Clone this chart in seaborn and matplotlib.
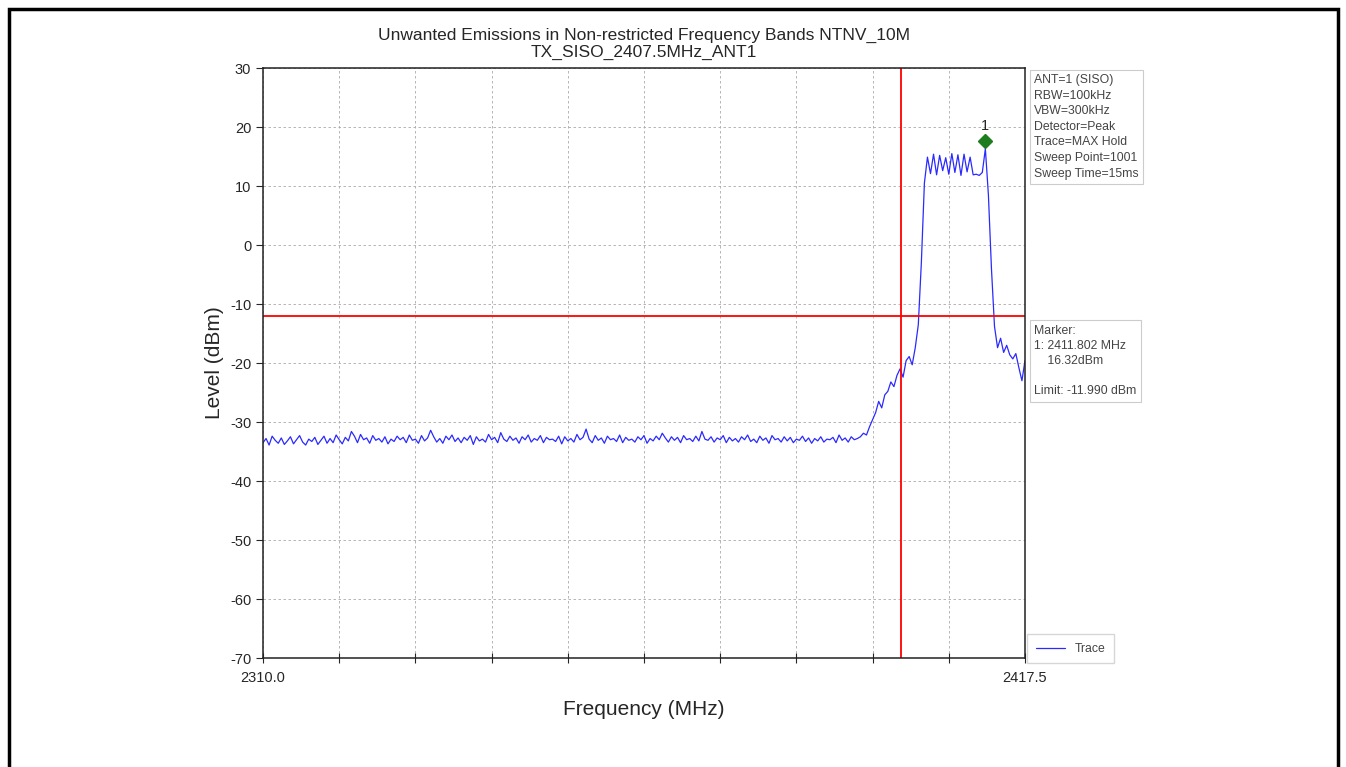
import numpy as np
import pandas as pd
import seaborn as sns
import matplotlib.pyplot as plt
import matplotlib.transforms as mtransforms
from matplotlib.patches import Rectangle

# sweep range (MHz) and limits
f_start = 2310.0
f_stop = 2417.5
limit_dbm = -11.990
band_edge = 2400.0
marker_freq = 2411.802
marker_level = 16.32

noise_floor = [
    -33.5, -32.8, -33.9, -32.4, -33.1, -33.6, -32.7, -33.8, -33.2, -32.5, -33.7, -33.0, -32.3, -33.4,
    -33.9, -32.9, -33.3, -32.6, -33.8, -33.1, -32.4, -33.6, -32.8, -33.5, -32.2, -33.0, -33.7, -32.6,
    -33.2, -31.6, -32.4, -33.5, -32.1, -33.0, -32.7, -33.6, -32.3, -33.1, -32.8, -33.4, -32.5, -33.7,
    -32.9, -33.3, -32.4, -33.0, -32.6, -33.5, -32.2, -33.1, -32.9, -33.6, -32.3, -33.2, -32.7, -31.4,
    -32.5, -33.4, -32.8, -33.6, -32.4, -33.0, -32.2, -33.3, -32.7, -33.5, -32.6, -33.1, -32.3, -33.8,
    -32.5, -33.2, -32.9, -33.4, -32.1, -33.0, -32.6, -33.5, -31.8, -32.9, -33.3, -32.4, -33.1, -32.7,
    -33.6, -32.5, -33.0, -32.2, -33.4, -32.8, -33.1, -32.3, -33.5, -32.6, -33.0, -32.9, -33.3, -32.4,
    -33.7, -32.5, -33.2, -32.8, -33.4, -32.1, -33.0, -32.6, -31.2, -32.9, -33.5, -32.3, -33.1, -32.7,
    -33.6, -32.4, -33.0, -32.8, -33.3, -32.2, -33.5, -32.6, -33.1, -32.9, -33.4, -32.5, -33.0, -32.3,
    -33.6, -32.8, -33.2, -32.4, -33.0, -31.9, -32.7, -33.4, -32.5, -33.1, -32.6, -33.5, -32.3, -33.0,
    -32.8, -33.3, -32.4, -33.2, -31.6, -32.9, -33.1, -32.5, -33.4, -32.7, -33.0, -32.3, -33.5, -32.6,
    -33.2, -32.8, -33.4, -32.5, -33.0, -32.2, -33.3, -32.9, -33.5, -32.4, -33.1, -32.7, -33.6, -32.3,
    -33.0, -32.8, -33.4, -32.5, -33.2, -32.6, -33.5, -32.9, -33.1, -32.4, -33.3, -32.7, -33.6, -32.8,
    -33.2, -32.5, -33.4, -32.9, -33.0, -32.6, -33.5, -32.2, -33.1, -32.7, -33.4, -32.5, -33.0, -32.8,
]
lower_skirt = [
    -32.5, -31.9, -32.2, -30.8, -29.6, -28.4, -26.5, -27.6, -25.4, -24.8, -23.2, -24.0,
    -22.1, -21.0, -22.4, -19.6, -18.9, -20.3, -17.4, -13.5, -3.0, 10.5, 14.9,
]
in_band = [
    12.1, 15.4, 11.9, 15.2, 12.6, 14.8, 12.0, 15.5, 12.3, 15.3, 11.8, 15.4, 12.4, 14.9,
    11.9, 12.0, 11.8, 12.3, 16.32,
]
upper_skirt = [8.5, -4.0, -13.8, -17.4, -15.8, -18.2, -17.0, -18.6, -19.3, -18.4, -20.8, -23.0, -19.6]

levels = noise_floor + lower_skirt + in_band + upper_skirt
freqs = np.linspace(f_start, f_stop, len(levels))
df = pd.DataFrame({"Frequency": freqs, "Level": levels})

sns.set_style("ticks")
plt.rcParams['font.family'] = ['Arial', 'Liberation Sans', 'DejaVu Sans']
plt.rcParams['axes.unicode_minus'] = False

fig = plt.figure(figsize=(13.46, 7.67), dpi=100)
ax = fig.add_axes([0.1954, 0.1421, 0.5661, 0.7692])

# outer frame of the report page
fig.patches.append(Rectangle((9 / 1346, -0.01), 1329 / 1346, 1 - 9 / 767 + 0.01,
                             transform=fig.transFigure, fill=False, lw=2.5, ec="black"))

sns.lineplot(data=df, x="Frequency", y="Level", ax=ax, color="#2a2aff", lw=0.9, label="Trace")

ax.axhline(limit_dbm, color="red", lw=1.3)
ax.axvline(band_edge, color="red", lw=1.3)

# marker diamond sits just above the trace point
offs = mtransforms.offset_copy(ax.transData, fig=fig, x=0, y=8, units="dots")
ax.plot([marker_freq], [marker_level], marker="D", color="#1e7d1e", ms=7, transform=offs)
offs2 = mtransforms.offset_copy(ax.transData, fig=fig, x=0, y=23, units="dots")
ax.text(marker_freq, marker_level, "1", transform=offs2, ha="center", va="center", fontsize=10.5)

xticks = np.linspace(f_start, f_stop, 11)
ax.set_xticks(xticks)
ax.set_xticklabels(["2310.0"] + [""] * 9 + ["2417.5"])
ax.set_yticks(np.arange(-70, 31, 10))
ax.set_xlim(f_start, f_stop)
ax.set_ylim(-70, 30)
ax.grid(True, ls=(0, (3, 3)), color="#aaaaaa", lw=0.6)
ax.tick_params(axis="x", direction="inout", length=7, labelsize=10.5, pad=6)
ax.tick_params(axis="y", direction="out", length=5, labelsize=10.5)
for s in ax.spines.values():
    s.set_visible(True)
    s.set_color("#222222")
    s.set_linewidth(1.1)

ax.set_xlabel("Frequency (MHz)", fontsize=15, labelpad=11)
ax.set_ylabel("Level (dBm)", fontsize=15, labelpad=4)
ax.set_title("Unwanted Emissions in Non-restricted Frequency Bands NTNV_10M\nTX_SISO_2407.5MHz_ANT1",
             fontsize=12.5, pad=8, linespacing=1.2)

box = dict(boxstyle="square,pad=0.35", fc="white", ec="#cccccc", lw=0.8)
ax.text(1.012, 0.99, "ANT=1 (SISO)\nRBW=100kHz\nVBW=300kHz\nDetector=Peak\nTrace=MAX Hold\n"
        "Sweep Point=1001\nSweep Time=15ms", transform=ax.transAxes, ha="left", va="top",
        fontsize=8.8, color="#444444", bbox=box, linespacing=1.4)
ax.text(1.012, 0.565, "Marker:\n1: 2411.802 MHz\n    16.32dBm\n\nLimit: -11.990 dBm",
        transform=ax.transAxes, ha="left", va="top", fontsize=8.8, color="#444444", bbox=box,
        linespacing=1.35)

leg = ax.legend(loc="lower left", bbox_to_anchor=(1.008, -0.003), fontsize=8.8, frameon=True,
                handlelength=2.4, borderaxespad=0)
leg.get_frame().set_edgecolor("#cccccc")
leg.get_frame().set_boxstyle("square")
for t in leg.get_texts():
    t.set_color("#444444")

fig.savefig("out.png", dpi=100)
